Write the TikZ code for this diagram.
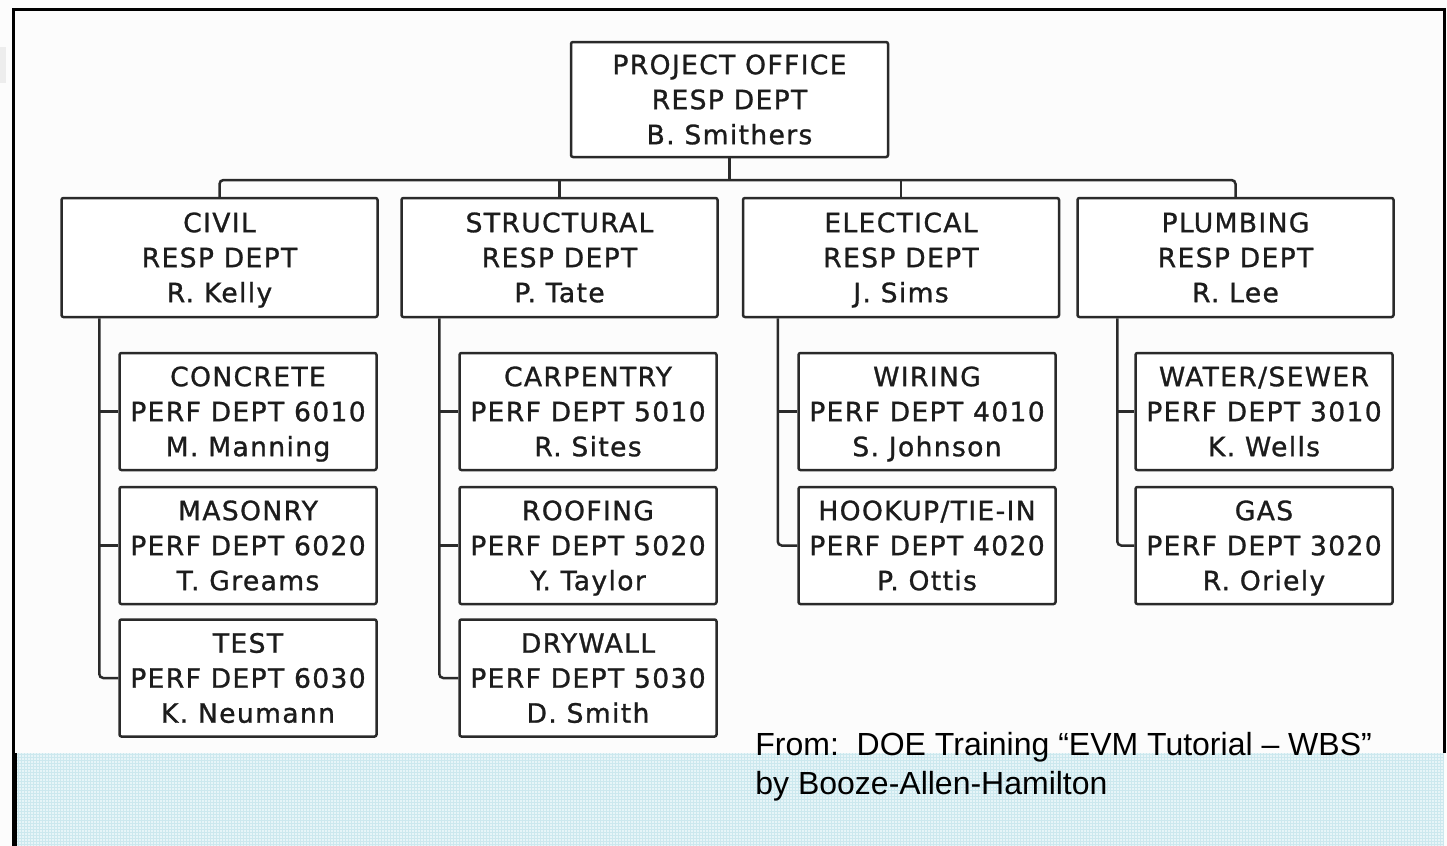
\documentclass[tikz,border=0pt]{standalone}
\usepackage{fontspec}
\newfontfamily\boxfont[LetterSpace=5,FakeBold=1]{DejaVu Sans}
\newfontfamily\notefont{Liberation Sans}
\definecolor{ink}{RGB}{42,42,42}
\definecolor{txt}{RGB}{28,28,28}
\definecolor{paper}{RGB}{252,252,252}
\definecolor{bandbase}{RGB}{231,245,248}
\definecolor{bandline}{RGB}{204,232,238}
% strut that centres the cap-height block of three lines
\newcommand\bstr{\rule[-4pt]{0pt}{17.7pt}}

\begin{document}
\begin{tikzpicture}[x=0.5pt,y=-0.5pt,
  wbsbox/.style={draw=ink, line width=1.25pt, rounded corners=1pt, fill=white,
    text=txt, align=center, inner sep=0pt,
    font=\boxfont\fontsize{13.3}{17.5}\selectfont},
  topbox/.style={wbsbox, minimum width=158.5pt, minimum height=57.5pt},
  headbox/.style={wbsbox, minimum width=158pt, minimum height=59.5pt},
  taskbox/.style={wbsbox, minimum width=128.5pt, minimum height=58.5pt},
  link/.style={draw=ink, line width=1.25pt, rounded corners=2pt}]

% page, frame and tinted band
\fill[paper] (0,0) rectangle (1447,846);
\useasboundingbox (0,0) rectangle (1447,846);
\fill[gray!14] (0,47) rectangle (6,83);
\fill[bandbase] (17,753) rectangle (1444,846);
\foreach \gx in {18,21,...,1443}
  \draw[bandline, line width=0.25pt] (\gx,753) -- (\gx,846);
\foreach \gy in {754,757,...,845}
  \draw[bandline, line width=0.25pt] (17,\gy) -- (1444,\gy);
\draw[black, line width=1.5pt] (13.5,846) -- (13.5,9.5) -- (1444,9.5) -- (1444,753);
\fill[black] (12,753) rectangle (17,846);

% project office
\node[topbox] (po) at (729.5,99.5) {\bstr PROJECT OFFICE\\RESP DEPT\\B. Smithers\bstr};

% responsible departments
\node[headbox] (civil)  at (219.5,257.5) {\bstr CIVIL\\RESP DEPT\\R. Kelly\bstr};
\node[headbox] (struct) at (559.5,257.5) {\bstr STRUCTURAL\\RESP DEPT\\P. Tate\bstr};
\node[headbox] (elec)   at (901,257.5)   {\bstr ELECTICAL\\RESP DEPT\\J. Sims\bstr};
\node[headbox] (plumb)  at (1235.5,257.5) {\bstr PLUMBING\\RESP DEPT\\R. Lee\bstr};

% performing departments
\node[taskbox] (concrete) at (248,411.5) {\bstr CONCRETE\\PERF DEPT 6010\\M. Manning\bstr};
\node[taskbox] (masonry)  at (248,545.5) {\bstr MASONRY\\PERF DEPT 6020\\T. Greams\bstr};
\node[taskbox] (test)     at (248,678)   {\bstr TEST\\PERF DEPT 6030\\K. Neumann\bstr};

\node[taskbox] (carpentry) at (588,411.5) {\bstr CARPENTRY\\PERF DEPT 5010\\R. Sites\bstr};
\node[taskbox] (roofing)   at (588,545.5) {\bstr ROOFING\\PERF DEPT 5020\\Y. Taylor\bstr};
\node[taskbox] (drywall)   at (588,678)   {\bstr DRYWALL\\PERF DEPT 5030\\D. Smith\bstr};

\node[taskbox] (wiring) at (927,411.5) {\bstr WIRING\\PERF DEPT 4010\\S. Johnson\bstr};
\node[taskbox] (hookup) at (927,545.5) {\bstr HOOKUP/TIE-IN\\PERF DEPT 4020\\P. Ottis\bstr};

\node[taskbox] (water) at (1264,411.5) {\bstr WATER/SEWER\\PERF DEPT 3010\\K. Wells\bstr};
\node[taskbox] (gas)   at (1264,545.5) {\bstr GAS\\PERF DEPT 3020\\R. Oriely\bstr};

% top-level bus
\coordinate (bus) at (0,180);
\draw[link] (civil.north) -- (civil.north |- bus) -- (plumb.north |- bus) -- (plumb.north);
\draw[link] (po.south) -- (po.south |- bus);
\draw[link] (struct.north) -- (struct.north |- bus);
\draw[link] (elec.north) -- (elec.north |- bus);

% spines down to the performing departments
\coordinate (civsp) at ([xshift=19.5pt]civil.south west);
\draw[link] (civsp) |- (test.west);
\draw[link] (concrete.west -| civsp) -- (concrete.west);
\draw[link] (masonry.west -| civsp) -- (masonry.west);

\coordinate (strsp) at ([xshift=19.5pt]struct.south west);
\draw[link] (strsp) |- (drywall.west);
\draw[link] (carpentry.west -| strsp) -- (carpentry.west);
\draw[link] (roofing.west -| strsp) -- (roofing.west);

\coordinate (elesp) at ([xshift=18pt]elec.south west);
\draw[link] (elesp) |- (hookup.west);
\draw[link] (wiring.west -| elesp) -- (wiring.west);

\coordinate (plusp) at ([xshift=20.5pt]plumb.south west);
\draw[link] (plusp) |- (gas.west);
\draw[link] (water.west -| plusp) -- (water.west);

% source note
\node[anchor=north west, inner sep=0pt, align=left, text=black,
  font=\notefont\fontsize{16}{19.5}\selectfont] (note) at (755,731.5)
  {From:\ \ DOE Training “EVM Tutorial – WBS”\\by Booze-Allen-Hamilton};
\end{tikzpicture}
\end{document}
